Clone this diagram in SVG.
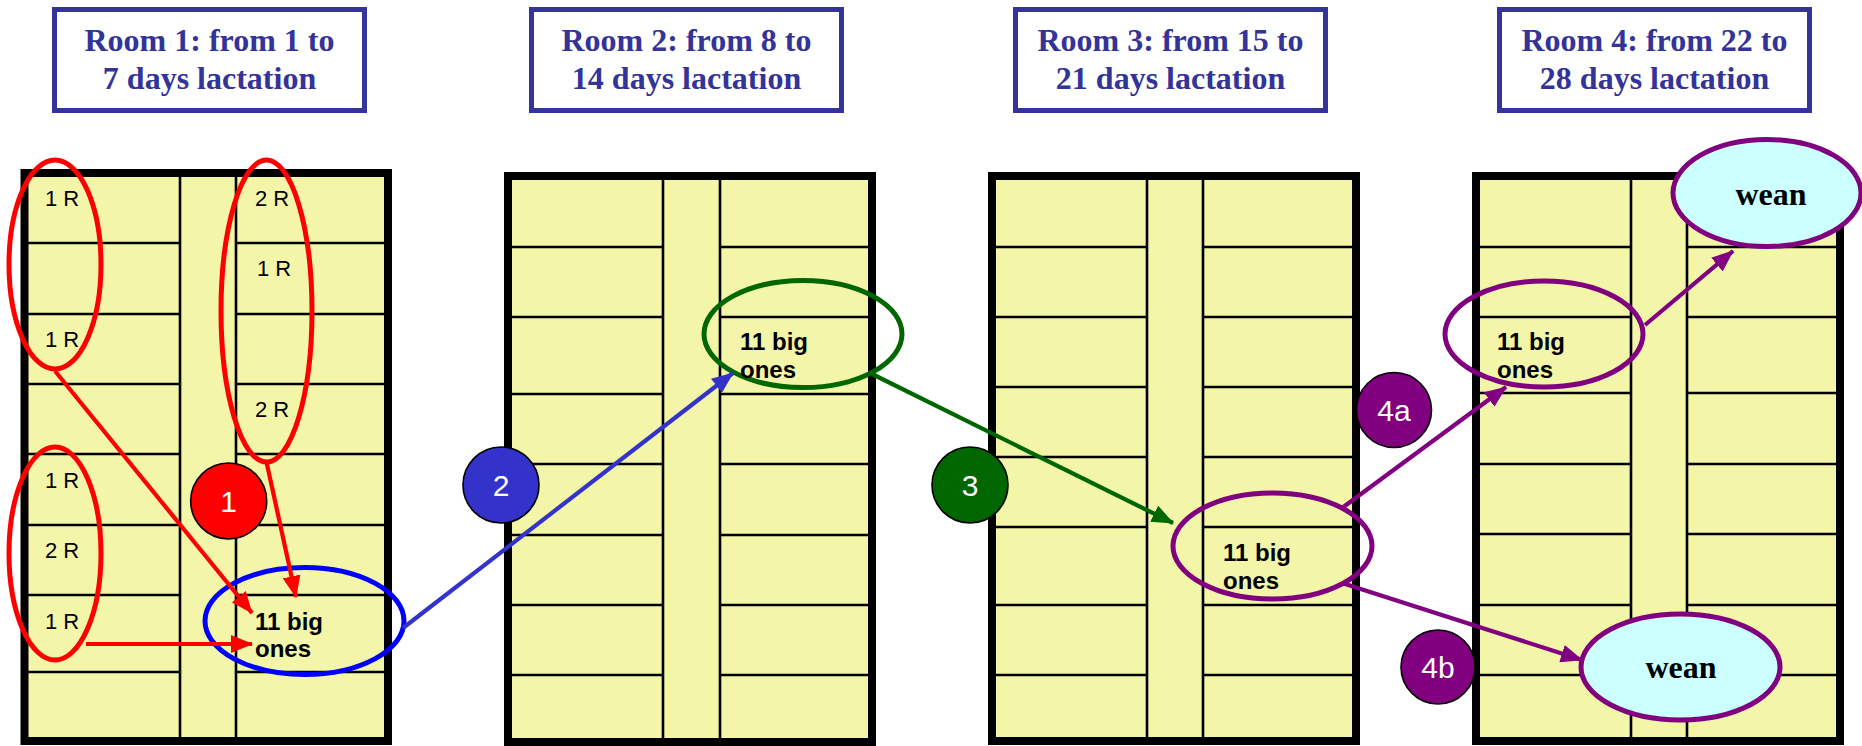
<svg xmlns="http://www.w3.org/2000/svg" width="1862" height="746" viewBox="0 0 1862 746">
  <style>
    .title-box { fill: #ffffff; stroke: #333399; stroke-width: 5; }
    .title { font-family: "Liberation Serif", "Times New Roman", serif; font-weight: bold; font-size: 32px; fill: #333399; text-anchor: middle; }
    .room-fill { fill: #f3f5a8; stroke: none; }
    .room-border { fill: none; stroke: #000000; stroke-width: 8; }
    .pen { stroke: #000000; stroke-width: 2.6; }
    .pen-label { font-family: "Liberation Sans", Arial, sans-serif; font-size: 22px; fill: #000000; }
    .group-label { font-family: "Liberation Sans", Arial, sans-serif; font-weight: bold; font-size: 24px; fill: #000000; }
    .ring { fill: none; stroke-width: 5; }
    .step { stroke: #000000; stroke-width: 1.6; }
    .step-label { font-family: "Liberation Sans", Arial, sans-serif; font-size: 30px; fill: #ffffff; text-anchor: middle; }
    .wean { fill: #ccffff; stroke: #800080; stroke-width: 5; }
    .wean-label { font-family: "Liberation Serif", "Times New Roman", serif; font-weight: bold; font-size: 32px; fill: #000000; text-anchor: middle; }
    .link { fill: none; stroke-width: 4.2; }
  </style>
  <defs>
    <marker id="head-red" markerUnits="userSpaceOnUse" markerWidth="22" markerHeight="18" refX="21" refY="9" orient="auto">
      <path d="M0,0 L22,9 L0,18 Z" fill="#ff0000"/>
    </marker>
    <marker id="head-blue" markerUnits="userSpaceOnUse" markerWidth="22" markerHeight="18" refX="21" refY="9" orient="auto">
      <path d="M0,0 L22,9 L0,18 Z" fill="#3333cc"/>
    </marker>
    <marker id="head-green" markerUnits="userSpaceOnUse" markerWidth="22" markerHeight="18" refX="21" refY="9" orient="auto">
      <path d="M0,0 L22,9 L0,18 Z" fill="#006600"/>
    </marker>
    <marker id="head-purple" markerUnits="userSpaceOnUse" markerWidth="22" markerHeight="18" refX="21" refY="9" orient="auto">
      <path d="M0,0 L22,9 L0,18 Z" fill="#800080"/>
    </marker>
  </defs>

  <!-- Room headings -->
  <g id="title-room1">
    <rect class="title-box" x="54.5" y="9.5" width="310" height="101"/>
    <text class="title" x="209.5" y="51">Room 1: from 1 to</text>
    <text class="title" x="209.5" y="89">7 days lactation</text>
  </g>
  <g id="title-room2">
    <rect class="title-box" x="531.5" y="9.5" width="310" height="101"/>
    <text class="title" x="686.5" y="51">Room 2: from 8 to</text>
    <text class="title" x="686.5" y="89">14 days lactation</text>
  </g>
  <g id="title-room3">
    <rect class="title-box" x="1015.5" y="9.5" width="310" height="101"/>
    <text class="title" x="1170.5" y="51">Room 3: from 15 to</text>
    <text class="title" x="1170.5" y="89">21 days lactation</text>
  </g>
  <g id="title-room4">
    <rect class="title-box" x="1499.5" y="9.5" width="310" height="101"/>
    <text class="title" x="1654.5" y="51">Room 4: from 22 to</text>
    <text class="title" x="1654.5" y="89">28 days lactation</text>
  </g>

  <!-- Room 1 floor plan -->
  <g id="room1">
    <rect class="room-fill" x="24.5" y="173" width="363.5" height="568"/>
    <g class="pen">
      <line x1="24" y1="243" x2="180" y2="243"/><line x1="236" y1="243" x2="388" y2="243"/>
      <line x1="24" y1="314" x2="180" y2="314"/><line x1="236" y1="314" x2="388" y2="314"/>
      <line x1="24" y1="384" x2="180" y2="384"/><line x1="236" y1="384" x2="388" y2="384"/>
      <line x1="24" y1="454" x2="180" y2="454"/><line x1="236" y1="454" x2="388" y2="454"/>
      <line x1="24" y1="525" x2="180" y2="525"/><line x1="236" y1="525" x2="388" y2="525"/>
      <line x1="24" y1="595" x2="180" y2="595"/><line x1="236" y1="595" x2="388" y2="595"/>
      <line x1="24" y1="672" x2="180" y2="672"/><line x1="236" y1="672" x2="388" y2="672"/>
      <line x1="180" y1="173" x2="180" y2="741"/>
      <line x1="236" y1="173" x2="236" y2="741"/>
    </g>
    <rect class="room-border" x="24.5" y="173" width="363.5" height="568"/>
    <text class="pen-label" x="45" y="206">1 R</text>
    <text class="pen-label" x="45" y="347">1 R</text>
    <text class="pen-label" x="45" y="488">1 R</text>
    <text class="pen-label" x="45" y="558">2 R</text>
    <text class="pen-label" x="45" y="629">1 R</text>
    <text class="pen-label" x="255" y="206">2 R</text>
    <text class="pen-label" x="257" y="276">1 R</text>
    <text class="pen-label" x="255" y="417">2 R</text>
  </g>

  <!-- Room 2 floor plan -->
  <g id="room2">
    <rect class="room-fill" x="508" y="176" width="364" height="566"/>
    <g class="pen">
      <line x1="508" y1="247" x2="663" y2="247"/><line x1="720" y1="247" x2="872" y2="247"/>
      <line x1="508" y1="317" x2="663" y2="317"/><line x1="720" y1="317" x2="872" y2="317"/>
      <line x1="508" y1="394" x2="663" y2="394"/><line x1="720" y1="394" x2="872" y2="394"/>
      <line x1="508" y1="464" x2="663" y2="464"/><line x1="720" y1="464" x2="872" y2="464"/>
      <line x1="508" y1="535" x2="663" y2="535"/><line x1="720" y1="535" x2="872" y2="535"/>
      <line x1="508" y1="605" x2="663" y2="605"/><line x1="720" y1="605" x2="872" y2="605"/>
      <line x1="508" y1="675" x2="663" y2="675"/><line x1="720" y1="675" x2="872" y2="675"/>
      <line x1="663" y1="176" x2="663" y2="742"/>
      <line x1="720" y1="176" x2="720" y2="742"/>
    </g>
    <rect class="room-border" x="508" y="176" width="364" height="566"/>
  </g>

  <!-- Room 3 floor plan -->
  <g id="room3">
    <rect class="room-fill" x="992" y="176" width="364" height="565"/>
    <g class="pen">
      <line x1="992" y1="247" x2="1147" y2="247"/><line x1="1203" y1="247" x2="1356" y2="247"/>
      <line x1="992" y1="317" x2="1147" y2="317"/><line x1="1203" y1="317" x2="1356" y2="317"/>
      <line x1="992" y1="387" x2="1147" y2="387"/><line x1="1203" y1="387" x2="1356" y2="387"/>
      <line x1="992" y1="457" x2="1147" y2="457"/><line x1="1203" y1="457" x2="1356" y2="457"/>
      <line x1="992" y1="527" x2="1147" y2="527"/><line x1="1203" y1="527" x2="1356" y2="527"/>
      <line x1="992" y1="605" x2="1147" y2="605"/><line x1="1203" y1="605" x2="1356" y2="605"/>
      <line x1="992" y1="675" x2="1147" y2="675"/><line x1="1203" y1="675" x2="1356" y2="675"/>
      <line x1="1147" y1="176" x2="1147" y2="741"/>
      <line x1="1203" y1="176" x2="1203" y2="741"/>
    </g>
    <rect class="room-border" x="992" y="176" width="364" height="565"/>
  </g>

  <!-- Room 4 floor plan -->
  <g id="room4">
    <rect class="room-fill" x="1476" y="176" width="364" height="565"/>
    <g class="pen">
      <line x1="1476" y1="247" x2="1631" y2="247"/><line x1="1687" y1="247" x2="1840" y2="247"/>
      <line x1="1476" y1="317" x2="1631" y2="317"/><line x1="1687" y1="317" x2="1840" y2="317"/>
      <line x1="1476" y1="393" x2="1631" y2="393"/><line x1="1687" y1="393" x2="1840" y2="393"/>
      <line x1="1476" y1="464" x2="1631" y2="464"/><line x1="1687" y1="464" x2="1840" y2="464"/>
      <line x1="1476" y1="534" x2="1631" y2="534"/><line x1="1687" y1="534" x2="1840" y2="534"/>
      <line x1="1476" y1="605" x2="1631" y2="605"/><line x1="1687" y1="605" x2="1840" y2="605"/>
      <line x1="1476" y1="675" x2="1631" y2="675"/><line x1="1687" y1="675" x2="1840" y2="675"/>
      <line x1="1631" y1="176" x2="1631" y2="741"/>
      <line x1="1687" y1="176" x2="1687" y2="741"/>
    </g>
    <rect class="room-border" x="1476" y="176" width="364" height="565"/>
  </g>

  <!-- Pen groupings in room 1 -->
  <g id="group-left-top">
    <ellipse class="ring" cx="55" cy="264.5" rx="46" ry="104.5" stroke="#ff0000"/>
  </g>
  <g id="group-right">
    <ellipse class="ring" cx="266.5" cy="311" rx="45.5" ry="151" stroke="#ff0000"/>
  </g>
  <g id="group-left-bottom">
    <ellipse class="ring" cx="55" cy="553.5" rx="46" ry="106.5" stroke="#ff0000"/>
  </g>

  <!-- Litters of big piglets -->
  <g id="big-room1">
    <ellipse class="ring" cx="304.5" cy="621" rx="99.5" ry="53.5" stroke="#0000ff"/>
    <text class="group-label" x="255" y="630">11 big</text>
    <text class="group-label" x="255" y="657">ones</text>
  </g>
  <g id="big-room2">
    <ellipse class="ring" cx="803" cy="334" rx="99" ry="53.5" stroke="#006600"/>
    <text class="group-label" x="740" y="350">11 big</text>
    <text class="group-label" x="740" y="378">ones</text>
  </g>
  <g id="big-room3">
    <ellipse class="ring" cx="1272.5" cy="546" rx="99.5" ry="53" stroke="#800080"/>
    <text class="group-label" x="1223" y="561">11 big</text>
    <text class="group-label" x="1223" y="589">ones</text>
  </g>
  <g id="big-room4">
    <ellipse class="ring" cx="1544" cy="334" rx="99" ry="53" stroke="#800080"/>
    <text class="group-label" x="1497" y="350">11 big</text>
    <text class="group-label" x="1497" y="378">ones</text>
  </g>

  <!-- Weaning -->
  <g id="wean-top">
    <ellipse class="wean" cx="1767" cy="193" rx="94" ry="53.5"/>
    <text class="wean-label" x="1771" y="205">wean</text>
  </g>
  <g id="wean-bottom">
    <ellipse class="wean" cx="1680.5" cy="667" rx="99.5" ry="53"/>
    <text class="wean-label" x="1681" y="678">wean</text>
  </g>

  <!-- Moves between pens and rooms -->
  <g id="connectors">
    <line class="link" x1="55" y1="371" x2="252" y2="613" stroke="#ff0000" marker-end="url(#head-red)"/>
    <line class="link" x1="266.5" y1="462" x2="296" y2="597" stroke="#ff0000" marker-end="url(#head-red)"/>
    <line class="link" x1="86" y1="644" x2="252" y2="644" stroke="#ff0000" marker-end="url(#head-red)"/>
    <line class="link" x1="403" y1="628" x2="733" y2="373" stroke="#3333cc" marker-end="url(#head-blue)"/>
    <line class="link" x1="872" y1="374" x2="1173" y2="523" stroke="#006600" marker-end="url(#head-green)"/>
    <line class="link" x1="1342" y1="508" x2="1506" y2="387" stroke="#800080" marker-end="url(#head-purple)"/>
    <line class="link" x1="1645" y1="325" x2="1733" y2="251" stroke="#800080" marker-end="url(#head-purple)"/>
    <line class="link" x1="1342" y1="583" x2="1582" y2="660" stroke="#800080" marker-end="url(#head-purple)"/>
  </g>

  <!-- Step markers -->
  <g id="step1">
    <circle class="step" cx="228.7" cy="501" r="38" fill="#ff0000"/>
    <text class="step-label" x="228.7" y="512">1</text>
  </g>
  <g id="step2">
    <circle class="step" cx="501" cy="485" r="38" fill="#3333cc"/>
    <text class="step-label" x="501" y="496">2</text>
  </g>
  <g id="step3">
    <circle class="step" cx="970" cy="485" r="38" fill="#006600"/>
    <text class="step-label" x="970" y="496">3</text>
  </g>
  <g id="step4a">
    <circle class="step" cx="1394" cy="410" r="37.5" fill="#800080"/>
    <text class="step-label" x="1394" y="421">4a</text>
  </g>
  <g id="step4b">
    <circle class="step" cx="1438" cy="667" r="37" fill="#800080"/>
    <text class="step-label" x="1438" y="678">4b</text>
  </g>
</svg>
